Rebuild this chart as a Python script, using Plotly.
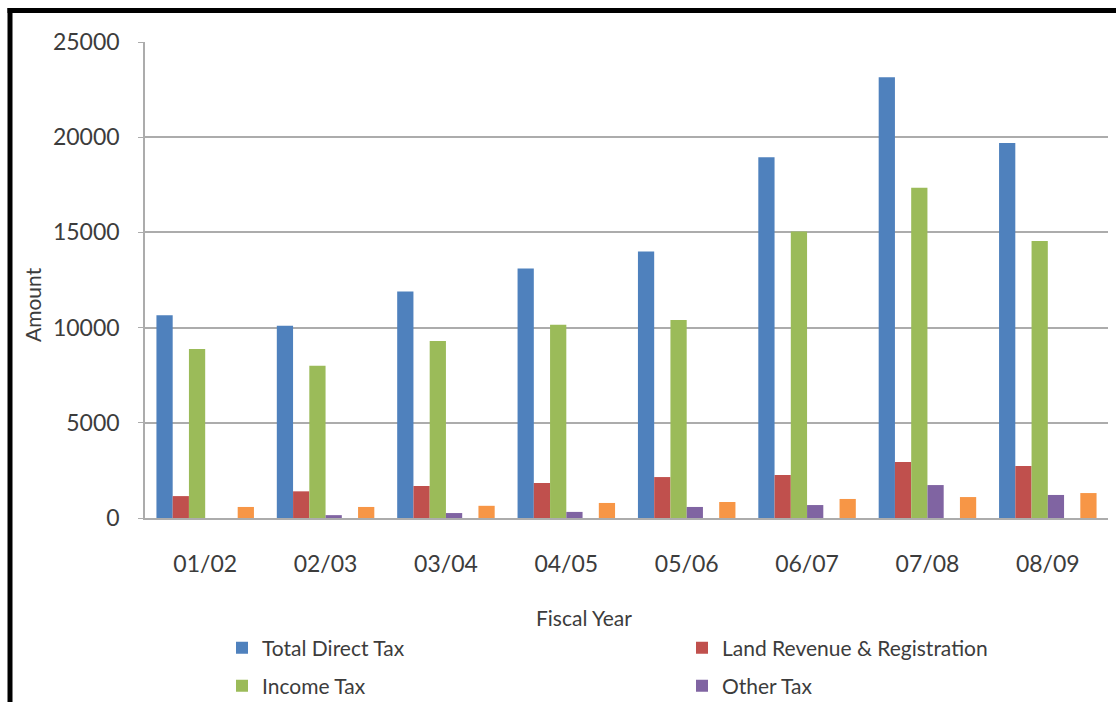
import plotly.graph_objects as go

# Fiscal years on the category axis
fiscal_years = ["01/02", "02/03", "03/04", "04/05", "05/06", "06/07", "07/08", "08/09"]

# Revenue amounts per series
total_direct_tax = [10650, 10100, 11900, 13100, 14000, 18950, 23150, 19700]
land_revenue_registration = [1150, 1400, 1680, 1840, 2150, 2260, 2940, 2730]
income_tax = [8880, 8000, 9300, 10150, 10400, 15050, 17350, 14550]
other_tax = [0, 150, 260, 320, 580, 680, 1730, 1210]
series_five = [0, 0, 0, 0, 0, 0, 0, 0]
series_six = [580, 580, 640, 790, 840, 1000, 1100, 1310]

y_ticks = [0, 5000, 10000, 15000, 20000, 25000]

W, H = 1116, 702
M_L, M_R, M_T, M_B = 145, 8, 42, 184

font_family = "Lato, 'Open Sans', sans-serif"
text_color = "#3C3C3C"
grid_color = "#ACACAC"

# name, values, colour, legend row (None = not listed)
series = [
    ("Total Direct Tax", total_direct_tax, "#4F81BD", "legend"),
    ("Land Revenue & Registration", land_revenue_registration, "#C0504D", "legend"),
    ("Income Tax", income_tax, "#9BBB59", "legend2"),
    ("Other Tax", other_tax, "#8064A2", "legend2"),
    ("Series 5", series_five, "#4BACC6", None),
    ("Series 6", series_six, "#F79646", None),
]

fig = go.Figure()
for name, values, color, legend_row in series:
    fig.add_trace(go.Bar(
        x=fiscal_years,
        y=values,
        name=name,
        marker=dict(color=color, line=dict(width=0)),
        showlegend=legend_row is not None,
        legend=legend_row or "legend",
    ))

plot_w = W - M_L - M_R
plot_h = H - M_T - M_B


def px_x(px):
    return (px - M_L) / plot_w


def px_y(py):
    return (H - M_B - py) / plot_h


# Heavy black frame along the top and left edges of the chart
fig.add_shape(type="line", xref="paper", yref="paper",
              x0=px_x(7.5), x1=px_x(W + 5), y0=px_y(10.5), y1=px_y(10.5),
              line=dict(color="#000000", width=5))
fig.add_shape(type="line", xref="paper", yref="paper",
              x0=px_x(10), x1=px_x(10), y0=px_y(8), y1=px_y(H + 5),
              line=dict(color="#000000", width=5))

# Axis titles
fig.add_annotation(text="Fiscal Year", xref="paper", yref="paper",
                   x=px_x(584), y=px_y(617), xanchor="center", yanchor="middle",
                   showarrow=False, font=dict(size=21, color=text_color))
fig.add_annotation(text="Amount", xref="paper", yref="paper",
                   x=px_x(32), y=px_y(305), xanchor="center", yanchor="middle",
                   textangle=-90, showarrow=False, font=dict(size=21, color=text_color))

legend_style = dict(
    orientation="h",
    xanchor="left",
    yanchor="middle",
    entrywidth=415,
    font=dict(size=21, color=text_color),
    bgcolor="rgba(0,0,0,0)",
    itemclick=False,
    itemdoubleclick=False,
)

fig.update_layout(
    width=W,
    height=H,
    margin=dict(l=M_L, r=M_R, t=M_T, b=M_B, pad=0, autoexpand=False),
    paper_bgcolor="white",
    plot_bgcolor="white",
    barmode="group",
    bargap=0.19,
    bargroupgap=0,
    font=dict(family=font_family, color=text_color, size=21),
    xaxis=dict(
        type="category",
        showgrid=False,
        showline=True,
        linecolor=grid_color,
        linewidth=1.5,
        ticks="",
        ticklabelstandoff=25,
        tickfont=dict(size=23, color=text_color),
    ),
    yaxis=dict(
        range=[0, 25000],
        tickvals=y_ticks,
        ticktext=[str(v) for v in y_ticks],
        showgrid=True,
        gridcolor=grid_color,
        gridwidth=1.5,
        showline=True,
        linecolor=grid_color,
        linewidth=1.5,
        ticks="outside",
        ticklen=5,
        tickcolor=grid_color,
        ticklabelstandoff=14,
        tickfont=dict(size=23, color=text_color),
        zeroline=False,
    ),
    legend=dict(x=px_x(222), y=px_y(648), **legend_style),
    legend2=dict(x=px_x(222), y=px_y(686), **legend_style),
)

fig.write_html("out.html")
